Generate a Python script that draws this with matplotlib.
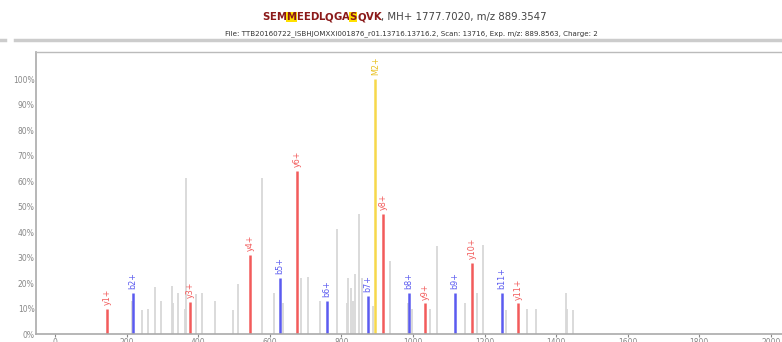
"""Annotated MS/MS spectrum for SEMMEEDLQGASQVK."""

import matplotlib.pyplot as plt
import numpy as np

# Matched fragment ions: label, m/z, relative intensity (%)
ion_labels = ['y1+', 'b2+', 'y3+', 'y4+', 'b5+', 'y6+', 'b6+', 'b7+',
              'y8+', 'b8+', 'y9+', 'b9+', 'y10+', 'b11+', 'y11+']
ion_mz = [145, 218, 377, 545, 628, 676, 760, 874,
          916, 989, 1034, 1117, 1165, 1249, 1293]
ion_int = [10, 16, 12.5, 31, 22, 64, 13, 15,
           47, 16, 12, 16, 28, 16, 12]
ion_kind = ['y', 'b', 'y', 'y', 'b', 'y', 'b', 'b',
            'y', 'b', 'y', 'b', 'y', 'b', 'y']

# Precursor peak
prec_label = 'M2+'
prec_mz = 895
prec_int = 100

# Unassigned peaks
other_mz = [215, 243, 260, 279, 296, 327, 330, 344, 363, 366, 394, 411,
            447, 497, 511, 578, 612, 637, 687, 707, 740, 788, 816, 818,
            827, 832, 838, 849, 858, 888, 936, 986, 997, 1047, 1067, 1145,
            1179, 1196, 1260, 1318, 1344, 1427, 1430, 1447]
other_int = [13, 9.5, 10, 18.5, 13, 19, 12, 16, 10, 61, 15.5, 16,
             13, 9.5, 19.5, 61, 16, 12, 22, 22.5, 13, 41, 12, 22,
             18, 13, 23.5, 47, 22, 11, 28.5, 12, 10, 10, 34.5, 12,
             16, 35, 9.5, 10, 10, 16, 10, 9.5]

peptide = 'SEMMEEDLQGASQVK'
modified = [3, 11]
header = ', MH+ 1777.7020, m/z 889.3547'
file_info = ('File: TTB20160722_ISBHJOMXXI001876_r01.13716.13716.2, '
             'Scan: 13716, Exp. m/z: 889.8563, Charge: 2')

colors = {'y': '#f25b5b', 'b': '#5b5bf0', 'p': '#f7d84a', 'o': '#d8d8d8'}


def main():
    W, H = 782, 342
    fig = plt.figure(figsize=(W / 100, H / 100), dpi=100)
    fig.patch.set_facecolor('white')

    ax = fig.add_axes([36 / W, 1 - 334 / H, 1 - 36 / W + 0.02, (334 - 52) / H])

    ax.vlines(other_mz, 0, other_int, color=colors['o'], lw=1.3)
    for lab, mz, it, k in zip(ion_labels, ion_mz, ion_int, ion_kind):
        ax.vlines(mz, 0, it, color=colors[k], lw=1.8)
        ax.text(mz, it + 1.5, lab, rotation=90, ha='center', va='bottom',
                fontsize=5.8, color=colors[k])
    ax.vlines(prec_mz, 0, prec_int, color=colors['p'], lw=1.8)
    ax.text(prec_mz, prec_int + 1.5, prec_label, rotation=90, ha='center',
            va='bottom', fontsize=5.8, color='#e8c020')

    ax.set_xlim(-53, 2031 + 0.02 * W / 0.358)
    ax.set_ylim(0, 110.6)
    ax.set_xticks(np.arange(0, 2001, 200))
    ax.set_yticks(np.arange(0, 101, 10))
    ax.set_yticklabels([f'{v}%' for v in range(0, 101, 10)])
    ax.tick_params(axis='both', labelsize=5.5, colors='#888888',
                   length=2, width=0.8, pad=1)
    ax.tick_params(axis='y', length=0, pad=1)
    for side in ['left', 'bottom']:
        ax.spines[side].set_color('#aaaaaa')
        ax.spines[side].set_linewidth(1.2)
    ax.spines['top'].set_color('#bbbbbb')
    ax.spines['top'].set_linewidth(1.0)
    ax.spines['right'].set_visible(False)

    # Header rule
    fig.add_artist(plt.Line2D([15 / W, 1], [1 - 40 / H] * 2, color='#cccccc',
                              lw=2.5, transform=fig.transFigure))
    fig.add_artist(plt.Line2D([0, 5 / W], [1 - 40 / H] * 2, color='#cccccc',
                              lw=2.5, transform=fig.transFigure))

    # Title: peptide sequence with modified residues highlighted
    fig.canvas.draw()
    renderer = fig.canvas.get_renderer()
    size = 7.3
    pieces = []
    for i, aa in enumerate(peptide):
        pieces.append((aa, '#8b1a1a', 'bold', i in modified))
    pieces.append((header, '#444444', 'normal', False))
    widths = []
    for txt, c, w, hl in pieces:
        t = fig.text(0, 0, txt, fontsize=size, fontweight=w)
        widths.append(t.get_window_extent(renderer).width)
        t.remove()
    x = 262
    y = H - 17
    for (txt, c, w, hl), wd in zip(pieces, widths):
        kw = {}
        if hl:
            kw['bbox'] = dict(facecolor='#ffe000', edgecolor='none', pad=0.3)
        fig.text(x / W, y / H, txt, fontsize=size, fontweight=w, color=c,
                 va='center', ha='left', **kw)
        x += wd

    fig.text(411 / W, 1 - 34 / H, file_info, fontsize=5.1, color='#333333',
             ha='center', va='center')

    fig.savefig('out.png', dpi=100)


if __name__ == '__main__':
    main()
